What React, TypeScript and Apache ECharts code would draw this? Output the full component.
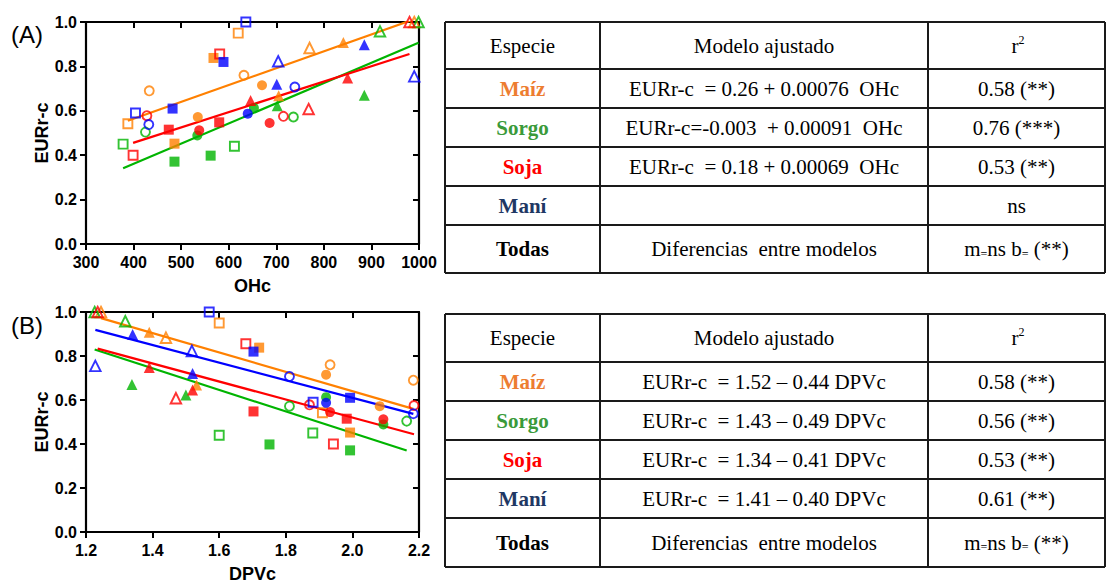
import React, { useEffect, useRef } from 'react';
import * as echarts from 'echarts';

// Species order and colours
const SPECIES = ['Maíz', 'Sorgo', 'Soja', 'Maní'];
const MARKER_COLORS = ['#ff8000', '#00b400', '#ff0000', '#0000ff'];
const LABEL_COLORS = ['#ed7d31', '#3a9a3a', '#ff0000', '#1f3864'];

// Marker kind per point: o/f = open/filled, s/c/t = square/circle/triangle
const kindsMaiz = ['os', 'os', 'fs', 'fs', 'oc', 'oc', 'fc', 'fc', 'ot', 'ot', 'ft', 'ft'];
const kindsSorgo = ['os', 'os', 'fs', 'fs', 'oc', 'oc', 'fc', 'fc', 'ot', 'ot', 'ft', 'ft'];
const kindsSoja = ['os', 'os', 'fs', 'fs', 'oc', 'oc', 'fc', 'fc', 'ot', 'ot', 'ft', 'ft'];
const kindsMani = ['os', 'os', 'fs', 'fs', 'oc', 'oc', 'fc', 'ot', 'ot', 'ft', 'ft'];

// EURr-c (shared by both panels), OHc and DPVc per point
const eurMaiz = [0.542, 0.95, 0.838, 0.452, 0.69, 0.76, 0.572, 0.715, 0.883, 1.0, 0.908, 0.668];
const ohcMaiz = [388, 620, 568, 486, 433, 632, 535, 670, 770, 990, 841, 705];
const dpvcMaiz = [1.91, 1.6, 1.72, 1.993, 2.183, 1.933, 2.082, 1.921, 1.44, 1.245, 1.39, 1.532];

const eurSorgo = [0.45, 0.44, 0.371, 0.398, 0.504, 0.572, 0.489, 0.613, 0.958, 1.0, 0.623, 0.67];
const ohcSorgo = [378, 612, 486, 562, 425, 736, 534, 653, 918, 999, 702, 885];
const dpvcSorgo = [1.881, 1.6, 1.993, 1.751, 2.163, 1.811, 2.093, 1.921, 1.318, 1.226, 1.5, 1.338];

const eurSoja = [0.4, 0.856, 0.515, 0.548, 0.578, 0.575, 0.512, 0.545, 0.608, 1.0, 0.646, 0.748];
const ohcSoja = [399, 581, 474, 580, 428, 715, 538, 686, 768, 980, 646, 850];
const dpvcSoja = [1.943, 1.68, 1.983, 1.703, 1.871, 2.185, 2.093, 1.933, 1.47, 1.235, 1.52, 1.39];

const eurMani = [1.0, 0.59, 0.82, 0.61, 0.538, 0.707, 0.587, 0.823, 0.755, 0.72, 0.898];
const ohcMani = [636, 404, 589, 482, 432, 739, 640, 704, 990, 701, 885];
const dpvcMani = [1.57, 1.882, 1.703, 1.993, 2.183, 1.811, 1.921, 1.518, 1.228, 1.52, 1.34];

// Fitted models: EURr-c = a + b·x  (null = not significant)
const fitOhc = [
  { a: 0.26, b: 0.00076 },
  { a: -0.003, b: 0.00091 },
  { a: 0.18, b: 0.00069 },
  null,
];
const fitDpvc = [
  { a: 1.52, b: -0.44 },
  { a: 1.43, b: -0.49 },
  { a: 1.34, b: -0.41 },
  { a: 1.41, b: -0.4 },
];

// Axis ticks
const ohcTicks = { min: 300, max: 1000, interval: 100 };
const dpvcTicks = { min: 1.2, max: 2.2, interval: 0.2 };
const eurTicks = { min: 0, max: 1, interval: 0.2 };

// Table texts
const tableHeader = ['Especie', 'Modelo ajustado'];
const modelsOhc = [
  'EURr-c\u00a0\u00a0= 0.26 + 0.00076\u00a0\u00a0OHc',
  'EURr-c=-0.003\u00a0\u00a0+ 0.00091\u00a0\u00a0OHc',
  'EURr-c\u00a0\u00a0= 0.18 + 0.00069\u00a0\u00a0OHc',
  '',
];
const r2Ohc = ['0.58 (**)', '0.76 (***)', '0.53 (**)', 'ns'];
const modelsDpvc = [
  'EURr-c\u00a0\u00a0= 1.52 \u2013 0.44 DPVc',
  'EURr-c\u00a0\u00a0= 1.43 \u2013 0.49 DPVc',
  'EURr-c\u00a0\u00a0= 1.34 \u2013 0.41 DPVc',
  'EURr-c\u00a0\u00a0= 1.41 \u2013 0.40 DPVc',
];
const r2Dpvc = ['0.58 (**)', '0.56 (**)', '0.53 (**)', '0.61 (**)'];
const allLabel = 'Todas';
const allModel = 'Diferencias\u00a0\u00a0entre modelos';

const SERIF = '"Liberation Serif", "Times New Roman", serif';
const SANS = '"Liberation Sans", Arial, sans-serif';

function markerItems(xs: number[], ys: number[], kinds: string[], color: string) {
  return xs.map((x, i) => {
    const k = kinds[i];
    const open = k[0] === 'o';
    const shape = k[1] === 's' ? 'rect' : k[1] === 'c' ? 'circle' : 'triangle';
    const size = shape === 'triangle' ? (open ? 10.5 : 11) : open ? 9 : 10;
    return {
      value: [x, ys[i]],
      symbol: shape,
      symbolSize: size,
      itemStyle: open
        ? { color: 'rgba(255,255,255,0)', borderColor: color, borderWidth: 1.9 }
        : { color, borderWidth: 0 },
    };
  });
}

function fitLine(fit: { a: number; b: number } | null, xs: number[]) {
  if (!fit) return null;
  const x0 = Math.min(...xs);
  const x1 = Math.max(...xs);
  return [
    [x0, fit.a + fit.b * x0],
    [x1, fit.a + fit.b * x1],
  ];
}

function axisBase() {
  return {
    axisLine: { show: true, onZero: false, lineStyle: { color: '#000', width: 2.2 } },
    axisTick: { show: true, length: 6, lineStyle: { color: '#000', width: 2 } },
    splitLine: { show: false },
  };
}

function xAxes(grid: number, ticks: any, name: string, fmt: (v: number) => string) {
  return [
    {
      type: 'value',
      gridIndex: grid,
      position: 'bottom',
      ...ticks,
      ...axisBase(),
      axisLabel: {
        color: '#000', fontSize: 16, fontWeight: 'bold', fontFamily: SANS, margin: 10,
        showMinLabel: true, showMaxLabel: true, formatter: fmt,
      },
      name,
      nameLocation: 'middle',
      nameGap: 33,
      nameTextStyle: { color: '#000', fontSize: 18, fontWeight: 'bold', fontFamily: SANS },
    },
    {
      type: 'value',
      gridIndex: grid,
      position: 'top',
      ...ticks,
      ...axisBase(),
      axisTick: { show: true, inside: true, length: 6, lineStyle: { color: '#000', width: 2 } },
      axisLabel: { show: false },
    },
  ];
}

function yAxes(grid: number) {
  return [
    {
      type: 'value',
      gridIndex: grid,
      position: 'left',
      ...eurTicks,
      ...axisBase(),
      axisLabel: {
        color: '#000', fontSize: 16, fontWeight: 'bold', fontFamily: SANS, margin: 9,
        showMinLabel: true, showMaxLabel: true, formatter: (v: number) => v.toFixed(1),
      },
      name: 'EURr-c',
      nameLocation: 'middle',
      nameGap: 34,
      nameTextStyle: { color: '#000', fontSize: 18, fontWeight: 'bold', fontFamily: SANS },
    },
    {
      type: 'value',
      gridIndex: grid,
      position: 'right',
      ...eurTicks,
      ...axisBase(),
      axisTick: { show: true, inside: true, length: 6, lineStyle: { color: '#000', width: 2 } },
      axisLabel: { show: false },
    },
  ];
}

function tableGraphics(rows: number[], models: string[], r2: string[]) {
  const cols = [445, 600, 928, 1105];
  const lineStyle = { stroke: '#1a1a1a', lineWidth: 2 };
  const els: any[] = [];
  // horizontal rules
  rows.forEach((y) => {
    els.push({ type: 'line', shape: { x1: cols[0], y1: y, x2: cols[3], y2: y }, style: lineStyle });
  });
  // vertical rules
  cols.forEach((x) => {
    els.push({ type: 'line', shape: { x1: x, y1: rows[0], x2: x, y2: rows[rows.length - 1] }, style: lineStyle });
  });
  const cx = [(cols[0] + cols[1]) / 2, (cols[1] + cols[2]) / 2, (cols[2] + cols[3]) / 2];
  const cy = rows.slice(0, -1).map((y, i) => (y + rows[i + 1]) / 2);
  const txt = (x: number, y: number, text: string, extra: any = {}) => ({
    type: 'text',
    x,
    y,
    style: {
      text,
      fontFamily: SERIF,
      fontSize: 21,
      fill: '#000',
      align: 'center',
      verticalAlign: 'middle',
      ...extra,
    },
  });
  // header
  els.push(txt(cx[0], cy[0], tableHeader[0]));
  els.push(txt(cx[1], cy[0], tableHeader[1]));
  els.push(txt(cx[2] + 2, cy[0], 'r', { align: 'right' }));
  els.push(txt(cx[2] + 2, cy[0] - 6, '2', { align: 'left', fontSize: 12 }));
  // species rows
  SPECIES.forEach((sp, i) => {
    els.push(txt(cx[0], cy[i + 1], sp, { fontWeight: 'bold', fill: LABEL_COLORS[i] }));
    if (models[i]) els.push(txt(cx[1], cy[i + 1], models[i]));
    els.push(txt(cx[2], cy[i + 1], r2[i]));
  });
  // comparison row
  const last = cy[cy.length - 1];
  els.push(txt(cx[0], last, allLabel, { fontWeight: 'bold' }));
  els.push(txt(cx[1], last, allModel));
  els.push({
    type: 'text',
    x: cx[2],
    y: last,
    style: {
      text: '{n|m}{e|=}{n|ns b}{e|=}{n|\u00a0(**)}',
      fontFamily: SERIF,
      fontSize: 21,
      fill: '#000',
      align: 'center',
      verticalAlign: 'middle',
      rich: {
        n: { fontFamily: SERIF, fontSize: 21, fill: '#000' },
        e: { fontFamily: SERIF, fontSize: 12, fill: '#000', verticalAlign: 'bottom' },
      },
    },
  });
  return els;
}

export default function App() {
  const ref = useRef<HTMLDivElement>(null);

  useEffect(() => {
    if (!ref.current) return;
    const chart = echarts.init(ref.current, undefined, { renderer: 'svg' });

    const eur = [eurMaiz, eurSorgo, eurSoja, eurMani];
    const ohc = [ohcMaiz, ohcSorgo, ohcSoja, ohcMani];
    const dpvc = [dpvcMaiz, dpvcSorgo, dpvcSoja, dpvcMani];
    const kinds = [kindsMaiz, kindsSorgo, kindsSoja, kindsMani];

    const series: any[] = [];
    // panel A: OHc (axes 0/1), panel B: DPVc (axes 2/3)
    [
      { xs: ohc, fits: fitOhc, xi: 0, yi: 0 },
      { xs: dpvc, fits: fitDpvc, xi: 2, yi: 2 },
    ].forEach((panel) => {
      SPECIES.forEach((sp, i) => {
        const line = fitLine(panel.fits[i], panel.xs[i]);
        if (line) {
          series.push({
            type: 'line',
            name: sp + ' ajuste',
            xAxisIndex: panel.xi,
            yAxisIndex: panel.yi,
            data: line,
            symbol: 'none',
            silent: true,
            z: 2,
            lineStyle: { color: MARKER_COLORS[i], width: 2.2 },
          });
        }
        series.push({
          type: 'scatter',
          name: sp,
          xAxisIndex: panel.xi,
          yAxisIndex: panel.yi,
          data: markerItems(panel.xs[i], eur[i], kinds[i], MARKER_COLORS[i]),
          silent: true,
          z: 3,
        });
      });
    });

    chart.setOption({
      animation: false,
      textStyle: { fontFamily: SANS },
      grid: [
        { left: 86, top: 22, width: 333, height: 222 },
        { left: 86, top: 312, width: 333, height: 222 },
      ],
      xAxis: [
        ...xAxes(0, ohcTicks, 'OHc', (v: number) => String(v)),
        ...xAxes(1, dpvcTicks, 'DPVc', (v: number) => v.toFixed(1)),
      ],
      yAxis: [...yAxes(0), ...yAxes(1)],
      series,
      graphic: [
        { type: 'text', x: 11, y: 34, style: { text: '(A)', fontFamily: SANS, fontSize: 24, fill: '#000', verticalAlign: 'middle' } },
        { type: 'text', x: 11, y: 325, style: { text: '(B)', fontFamily: SANS, fontSize: 24, fill: '#000', verticalAlign: 'middle' } },
        ...tableGraphics([22, 69, 108, 147, 186, 225, 273], modelsOhc, r2Ohc),
        ...tableGraphics([314, 362, 401, 440, 479, 518, 567], modelsDpvc, r2Dpvc),
      ],
    });

    return () => chart.dispose();
  }, []);

  return (
    <div
      ref={ref}
      style={{ position: 'absolute', left: 0, top: 0, width: 1108, height: 584, background: '#fff' }}
    />
  );
}
